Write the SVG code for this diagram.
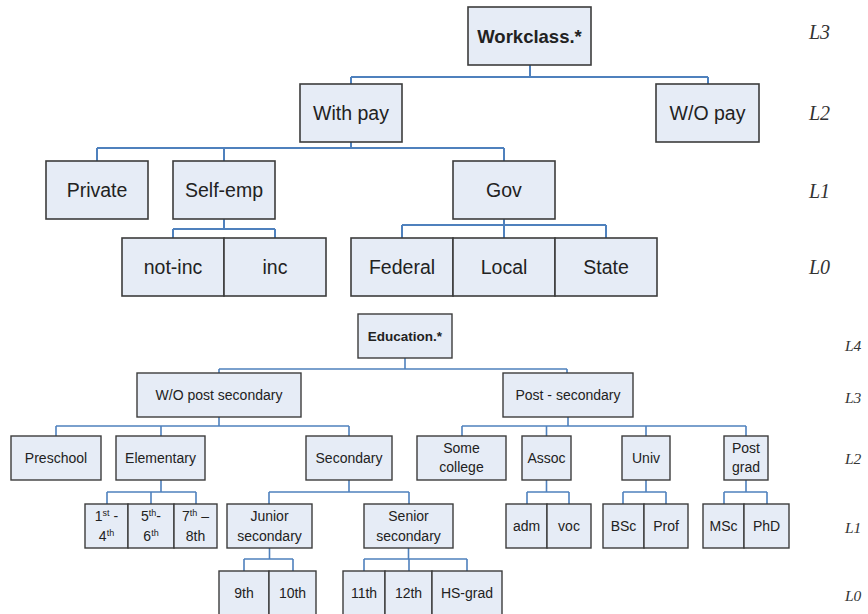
<svg xmlns="http://www.w3.org/2000/svg" width="868" height="614" viewBox="0 0 868 614">
<style>
rect.n{fill:#e6ecf6;stroke:#3c3c3c;stroke-width:1.6}
rect.s{fill:#e6ecf6;stroke:#3c3c3c;stroke-width:1.4}
text{font-family:"Liberation Sans",Arial,sans-serif;fill:#222;text-anchor:middle}
text.t{font-size:19.5px}
text.b{font-size:14px}
text.lv{font-family:"Liberation Serif","Times New Roman",serif;font-style:italic;fill:#333;text-anchor:start}
.c{fill:none;stroke:#4f81bd;stroke-width:2}
.c2{fill:none;stroke:#4f81bd;stroke-width:1.6}
</style>
<rect width="868" height="614" fill="#fff"/>
<g id="connectors">
<path class="c" d="M530 65V77M351 77H708M351 77V84M708 77V84"/>
<path class="c" d="M351 142V148M97 148H504M97 148V161M224 148V161M504 148V161"/>
<path class="c" d="M224 219V229M173 229H275M173 229V238M275 229V238"/>
<path class="c" d="M504 219V225M402 225H606M402 225V238M504 225V238M606 225V238"/>
<path class="c2" d="M405 358V369M219 369H567M219 369V373M567 369V373"/>
<path class="c2" d="M219 417V426M56 426H349M56 426V436M161 426V436M349 426V436"/>
<path class="c2" d="M568 417V426M462 426H746M462 426V436M546.5 426V436M646 426V436M746 426V436"/>
<path class="c2" d="M161 480V492M107 492H196M107 492V504M151 492V504M196 492V504"/>
<path class="c2" d="M349 480V492M269 492H409M269 492V504M409 492V504"/>
<path class="c2" d="M546.5 480V492M527 492H569M527 492V504M569 492V504"/>
<path class="c2" d="M646 480V492M623 492H666M623 492V504M666 492V504"/>
<path class="c2" d="M746 480V492M724 492H767M724 492V504M767 492V504"/>
<path class="c2" d="M269.5 548V559M244 559H293M244 559V571M293 559V571"/>
<path class="c2" d="M408.5 548V559M364 559H467M364 559V571M409 559V571M467 559V571"/>
</g>
<g id="workclass"><rect class="n" x="468" y="7" width="123" height="58"/><text class="t" x="529.5" y="43" style="font-weight:bold;font-size:18.5px">Workclass.*</text></g>
<g id="withpay"><rect class="n" x="300" y="84" width="102" height="58"/><text class="t" x="351" y="120">With pay</text></g>
<g id="wopay"><rect class="n" x="656" y="84" width="103" height="58"/><text class="t" x="707.5" y="120">W/O pay</text></g>
<g id="private"><rect class="n" x="46" y="161" width="102" height="58"/><text class="t" x="97" y="197">Private</text></g>
<g id="selfemp"><rect class="n" x="173" y="161" width="102" height="58"/><text class="t" x="224" y="197">Self-emp</text></g>
<g id="gov"><rect class="n" x="453" y="161" width="102" height="58"/><text class="t" x="504" y="197">Gov</text></g>
<g id="notinc"><rect class="n" x="122" y="238" width="102" height="58"/><text class="t" x="173" y="274">not-inc</text></g>
<g id="inc"><rect class="n" x="224" y="238" width="102" height="58"/><text class="t" x="275" y="274">inc</text></g>
<g id="federal"><rect class="n" x="351" y="238" width="102" height="58"/><text class="t" x="402" y="274">Federal</text></g>
<g id="local"><rect class="n" x="453" y="238" width="102" height="58"/><text class="t" x="504" y="274">Local</text></g>
<g id="state"><rect class="n" x="555" y="238" width="102" height="58"/><text class="t" x="606" y="274">State</text></g>
<g id="levels-top">
<text class="lv" x="809" y="39" style="font-size:20px">L3</text>
<text class="lv" x="809" y="120" style="font-size:20px">L2</text>
<text class="lv" x="809" y="198" style="font-size:20px">L1</text>
<text class="lv" x="809" y="274" style="font-size:20px">L0</text>
</g>
<g id="education"><rect class="s" x="358" y="314" width="94" height="44"/><text class="b" x="405" y="341" style="font-weight:bold;font-size:13.5px">Education.*</text></g>
<g id="wopost"><rect class="s" x="137" y="373" width="164" height="44"/><text class="b" x="219" y="400">W/O post secondary</text></g>
<g id="postsec"><rect class="s" x="503" y="373" width="130" height="44"/><text class="b" x="568" y="400">Post - secondary</text></g>
<g id="preschool"><rect class="s" x="11" y="436" width="90" height="44"/><text class="b" x="56" y="463">Preschool</text></g>
<g id="elementary"><rect class="s" x="116" y="436" width="89" height="44"/><text class="b" x="160.5" y="463">Elementary</text></g>
<g id="secondary"><rect class="s" x="306" y="436" width="86" height="44"/><text class="b" x="349" y="463">Secondary</text></g>
<g id="somecollege"><rect class="s" x="417" y="436" width="89" height="44"/><text class="b" x="461.5" y="453">Some</text><text class="b" x="461.5" y="472">college</text></g>
<g id="assoc"><rect class="s" x="522" y="436" width="49" height="44"/><text class="b" x="546.5" y="463">Assoc</text></g>
<g id="univ"><rect class="s" x="622" y="436" width="48" height="44"/><text class="b" x="646" y="463">Univ</text></g>
<g id="postgrad"><rect class="s" x="724" y="436" width="44" height="44"/><text class="b" x="746" y="453">Post</text><text class="b" x="746" y="472">grad</text></g>
<g id="g1to4"><rect class="s" x="85" y="504" width="43" height="44"/><text class="b" x="106.5" y="521">1<tspan font-size="9" dy="-5">st</tspan><tspan dy="5"> -</tspan></text><text class="b" x="106.5" y="541">4<tspan font-size="9" dy="-5">th</tspan></text></g>
<g id="g5to6"><rect class="s" x="128" y="504" width="46" height="44"/><text class="b" x="151" y="521">5<tspan font-size="9" dy="-5">th</tspan><tspan dy="5">-</tspan></text><text class="b" x="151" y="541">6<tspan font-size="9" dy="-5">th</tspan></text></g>
<g id="g7to8"><rect class="s" x="174" y="504" width="43" height="44"/><text class="b" x="195.5" y="521">7<tspan font-size="9" dy="-5">th</tspan><tspan dy="5"> –</tspan></text><text class="b" x="195.5" y="541">8th</text></g>
<g id="junior"><rect class="s" x="227" y="504" width="85" height="44"/><text class="b" x="269.5" y="521">Junior</text><text class="b" x="269.5" y="541">secondary</text></g>
<g id="senior"><rect class="s" x="364" y="504" width="89" height="44"/><text class="b" x="408.5" y="521">Senior</text><text class="b" x="408.5" y="541">secondary</text></g>
<g id="adm"><rect class="s" x="506" y="504" width="41" height="44"/><text class="b" x="526.5" y="531">adm</text></g>
<g id="voc"><rect class="s" x="547" y="504" width="44" height="44"/><text class="b" x="569" y="531">voc</text></g>
<g id="bsc"><rect class="s" x="603" y="504" width="41" height="44"/><text class="b" x="623.5" y="531">BSc</text></g>
<g id="prof"><rect class="s" x="644" y="504" width="44" height="44"/><text class="b" x="666" y="531">Prof</text></g>
<g id="msc"><rect class="s" x="703" y="504" width="41" height="44"/><text class="b" x="723.5" y="531">MSc</text></g>
<g id="phd"><rect class="s" x="744" y="504" width="45" height="44"/><text class="b" x="766.5" y="531">PhD</text></g>
<g id="g9"><rect class="s" x="219" y="571" width="50" height="46"/><text class="b" x="244" y="598">9th</text></g>
<g id="g10"><rect class="s" x="269" y="571" width="47" height="46"/><text class="b" x="292.5" y="598">10th</text></g>
<g id="g11"><rect class="s" x="343" y="571" width="42" height="46"/><text class="b" x="364" y="598">11th</text></g>
<g id="g12"><rect class="s" x="385" y="571" width="47" height="46"/><text class="b" x="408.5" y="598">12th</text></g>
<g id="hsgrad"><rect class="s" x="432" y="571" width="70" height="46"/><text class="b" x="467" y="598">HS-grad</text></g>
<g id="levels-bottom">
<text class="lv" x="845" y="351" style="font-size:15.5px">L4</text>
<text class="lv" x="845" y="403" style="font-size:15.5px">L3</text>
<text class="lv" x="845" y="464" style="font-size:15.5px">L2</text>
<text class="lv" x="845" y="533" style="font-size:15.5px">L1</text>
<text class="lv" x="845" y="601" style="font-size:15.5px">L0</text>
</g>
</svg>
